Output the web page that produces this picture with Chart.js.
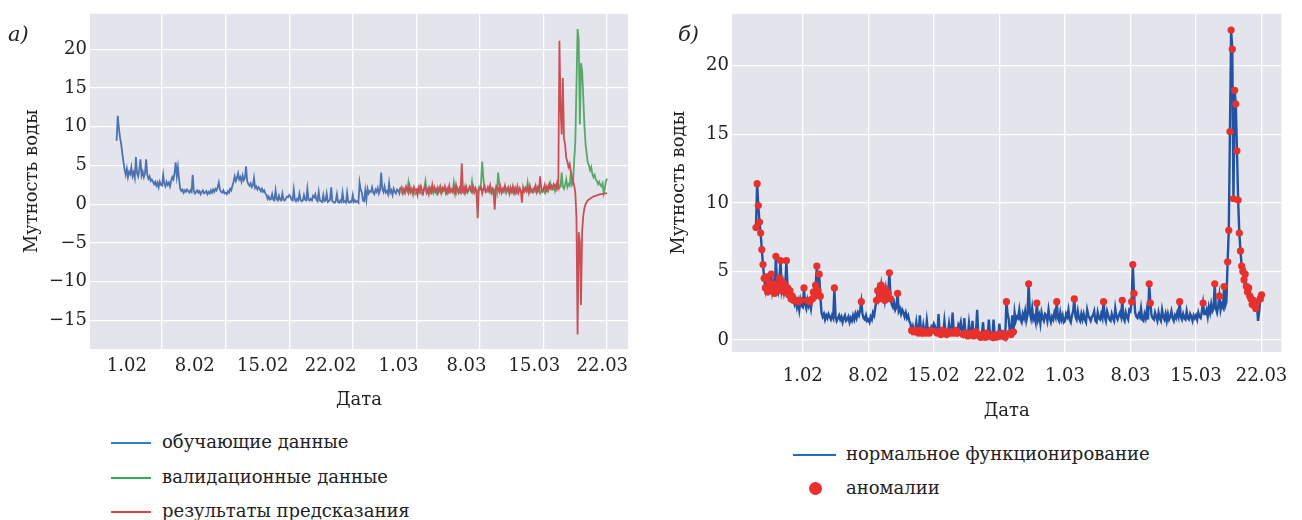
<!DOCTYPE html>
<html lang="ru">
<head>
<meta charset="utf-8">
<title>Мутность воды</title>
<script src="https://cdn.jsdelivr.net/npm/chart.js@4.4.1/dist/chart.umd.min.js"></script>
<style>
  body { margin: 0; background: #fff; width: 1302px; height: 520px; overflow: hidden; position: relative;
         font-family: "DejaVu Serif", serif; color: #222; }
  canvas { position: absolute; top: 0; }
  #chartA { left: 0; }
  #chartB { left: 650px; }
  .tag { position: absolute; font-style: italic; font-size: 21px; line-height: 24px; }
  .item { position: absolute; font-size: 18px; line-height: 22px; height: 22px; white-space: nowrap; }
  .line { position: absolute; height: 2px; }
  .dot { position: absolute; width: 13px; height: 13px; border-radius: 50%; background: #e8302c; }
</style>
</head>
<body>
<canvas id="chartA" width="650" height="430"></canvas>
<canvas id="chartB" width="652" height="430"></canvas>

<div class="tag" style="left:8px;top:22px;">а)</div>
<div class="tag" style="left:678px;top:22px;">б)</div>

<div class="line" style="left:111px;top:442px;width:40px;background:#2d7fc6;"></div>
<div class="item" style="left:162px;top:431px;">обучающие данные</div>
<div class="line" style="left:111px;top:477px;width:40px;background:#2fae52;"></div>
<div class="item" style="left:162px;top:466px;">валидационные данные</div>
<div class="line" style="left:111px;top:511px;width:40px;background:#e8403c;"></div>
<div class="item" style="left:162px;top:500px;">результаты предсказания</div>

<div class="line" style="left:793px;top:454px;width:43px;background:#1f6fc0;"></div>
<div class="item" style="left:846px;top:443px;">нормальное функционирование</div>
<div class="dot" style="left:809px;top:482px;"></div>
<div class="item" style="left:846px;top:477px;">аномалии</div>

<script>
// Water turbidity, eight samples a day (every 3 h). Day 0 is 1 February; the record starts on 27 January.
const SERIES_START = -5;     // day of the first sample
const SERIES_STEP = 0.125;   // 3 hours between samples
const SPLIT_DAY = 26.25;     // end of the training part, start of validation / forecast

// one row per day
const turbidity = [
  8.2, 11.4, 9.8, 8.6, 7.8, 6.6, 5.5, 4.5,     // 27.01
  3.8, 4.6, 3.5, 4.2, 3.9, 4.8, 3.6, 4.1,
  3.4, 6.1, 4.0, 3.6, 4.5, 5.8, 3.7, 4.2,
  3.5, 4.0, 5.8, 3.8, 3.3, 3.6, 3.0, 3.2,
  2.9, 2.6, 2.9, 2.4, 2.8, 2.2, 2.9, 2.5,
  2.4, 3.8, 2.6, 2.3, 2.9, 2.5, 2.8, 2.3,     // 1.02
  3.0, 3.5, 3.2, 4.0, 5.4, 3.6, 4.8, 3.2,
  2.0, 1.7, 1.9, 1.5, 1.8, 1.6, 1.9, 1.7,
  1.5, 1.8, 1.6, 3.8, 1.7, 1.4, 1.6, 1.8,
  1.5, 1.7, 1.3, 1.6, 1.8, 1.4, 1.5, 1.7,
  1.3, 1.6, 1.4, 1.8, 1.5, 1.9, 1.6, 2.0,
  1.8, 2.2, 2.8, 1.9, 1.6, 1.5, 1.8, 1.4,
  1.5, 1.3, 1.7, 1.5, 2.0, 1.8, 2.4, 2.9,
  3.6, 3.0, 3.4, 4.0, 3.2, 3.5, 2.9, 3.7,     // 8.02
  3.1, 3.4, 4.9, 3.0, 2.6, 2.4, 2.7, 2.2,
  2.4, 3.4, 2.1, 2.3, 1.9, 2.2, 2.0, 1.7,
  2.0, 1.6, 1.8, 1.4, 1.2, 0.7, 1.0, 0.6,
  0.7, 1.3, 0.6, 0.5, 1.8, 0.7, 0.5, 1.1,
  0.6, 0.5, 1.4, 0.6, 0.5, 0.7, 1.0, 0.9,
  1.2, 1.0, 0.6, 0.5, 1.9, 0.6, 0.4, 0.7,
  0.5, 1.4, 0.6, 0.4, 0.5, 1.2, 0.6, 0.5,     // 15.02
  2.0, 0.6, 0.5, 0.7, 0.5, 1.1, 0.9, 1.3,
  0.6, 0.4, 1.6, 0.5, 0.4, 0.3, 1.2, 0.4,
  0.5, 1.4, 0.3, 0.4, 0.6, 2.2, 0.4, 0.3,
  0.2, 0.4, 1.3, 0.3, 0.2, 0.5, 0.3, 1.5,
  0.3, 0.4, 0.2, 1.5, 0.3, 0.2, 0.4, 0.3,
  1.2, 0.3, 0.5, 0.3, 0.4, 0.2, 2.8, 1.9,
  1.5, 0.5, 0.4, 1.8, 0.6, 2.0, 1.4, 1.7,     // 22.02
  1.6, 2.2, 1.5, 1.3, 1.9, 1.6, 2.1, 1.4,
  1.8, 4.1, 2.0, 1.6, 2.3, 1.5, 1.7, 1.3,
  2.7, 1.5, 1.8, 1.2, 2.0, 1.6, 1.4, 1.9,
  1.8, 1.4, 2.2, 1.6, 1.3, 1.7, 1.5, 2.0,
  1.7, 2.8, 1.6, 1.4, 2.0, 1.5, 1.8, 1.3,
  1.4, 1.9, 1.7, 2.2, 1.5, 1.3, 1.8, 2.1,
  3.0, 1.7, 1.5, 2.1, 1.6, 1.4, 1.9, 1.5,     // 1.03
  1.9, 1.5, 1.3, 2.2, 1.8, 1.6, 1.4, 1.7,
  1.8, 2.1, 1.4, 1.3, 2.0, 1.6, 1.5, 1.9,
  1.6, 2.8, 1.7, 1.4, 2.1, 1.8, 1.5, 1.4,
  1.9, 1.6, 1.4, 2.3, 1.7, 1.5, 1.8, 2.0,
  1.7, 2.9, 1.6, 1.4, 2.0, 1.7, 1.5, 2.2,
  2.1, 2.8, 5.5, 3.4, 2.0, 1.7, 1.6, 1.9,
  1.7, 2.3, 1.5, 1.4, 1.9, 1.6, 2.2, 1.5,     // 8.03
  4.1, 2.7, 1.8, 1.6, 1.5, 2.0, 1.7, 1.4,
  2.0, 1.6, 1.4, 2.2, 1.7, 1.5, 1.9, 1.4,
  1.9, 1.5, 1.7, 2.1, 1.6, 1.4, 1.8, 1.6,
  2.0, 1.7, 2.8, 1.7, 1.5, 1.9, 1.6, 1.5,
  2.1, 1.6, 1.5, 1.9, 1.7, 1.4, 1.8, 1.6,
  1.8, 1.5, 2.0, 1.7, 1.6, 2.1, 2.7, 1.9,
  1.9, 2.2, 1.7, 2.4, 2.0, 2.6, 2.1, 2.3,     // 15.03
  4.1, 2.3, 2.0, 2.5, 3.2, 2.2, 2.6, 2.4,
  3.9, 2.5, 2.8, 5.7, 8.0, 15.2, 22.6, 21.2,
  10.3, 18.2, 17.2, 13.8, 10.2, 7.8, 6.5, 5.4,
  5.0, 4.4, 4.8, 3.9, 3.5, 3.8, 3.2, 3.0,
  2.6, 2.9, 2.5, 2.3, 2.7, 1.4, 2.1, 3.0,
  3.3                                          // 22.03
];

// 1 marks a sample classified as an anomaly, one string per day
const anomalyMask = [
  '11111111', '11111111', '11111111', '11111111', '10101010',
  '01001010', '11111111', '00000000', '00010000', '00000000', '00000000', '00100000', '00000001',
  '11111111', '11110000', '01000000', '00000101', '10110110', '11011100', '00110111',
  '10111011', '01111000', '01011101', '10111011', '11011110', '11101111', '01111110',
  '01101000', '00000000', '01000000', '10000000', '00000000', '01000000', '00000000',
  '10000000', '00000000', '00000000', '01000000', '00000000', '01000000', '01110000',
  '00000000', '11000000', '00000000', '00000000', '00100000', '00000000', '00000010',
  '00000000', '10001000', '10011111', '11111111', '11111111', '11111001',
  '1'
];

// Model forecast over the validation period, from SPLIT_DAY on, same 3 h step
const forecast = [
  1.8, 2.2, 1.6, 2.0, 1.5, 2.3,
  2.0, 1.5, 2.4, 1.7, 1.9, 1.3, 2.2, 1.8,
  1.9, 1.2, 2.1, 1.6, 2.3, 1.8, 1.4, 2.0,
  2.4, 1.5, 1.9, 1.3, 2.1, 1.7, 2.5, 1.6,
  2.2, 1.7, 2.0, 1.4, 1.8, 2.3, 1.5, 2.1,
  1.8, 2.3, 1.5, 2.0, 1.6, 2.4, 1.7, 1.9,
  1.6, 2.2, 1.4, 2.5, 1.9, 1.5, 2.1, 1.7,
  5.3, 1.8, 2.1, 1.5, 2.2, 1.6, 1.9, 2.3,
  2.0, 1.6, 2.3, 1.7, 2.1, 1.5, -1.8, 1.9,
  1.9, 2.2, 1.4, 2.0, 2.4, 1.6, 1.8, 2.2,
  1.7, 2.4, 1.5, 2.0, 1.6, -0.7, 1.9, 2.3,
  2.1, 1.6, 2.3, 1.5, 2.0, 1.7, 2.4, 1.8,
  1.9, 2.2, 1.4, 2.0, 1.6, 2.3, 1.5, 2.1,
  1.6, 2.3, 1.5, 2.0, 1.8, 0.2, 2.2, 1.7,
  2.1, 1.7, 2.2, 1.5, 2.4, 1.8, 1.6, 2.0,
  1.9, 2.4, 1.6, 2.2, 1.8, 3.6, 2.1, 1.7,
  2.0, 2.5, 1.7, 2.3, 1.9, 2.6, 2.1, 2.4,
  2.1, 2.6, 2.4, 2.0, 2.8, 2.3, 21.1, 12.5,
  9.0, 16.3, 8.5, 7.7, 6.0, 5.5, 4.8, 5.2,
  4.2, 3.6, 3.0, 2.4, 1.5, -1.7, -16.8, -3.6,
  -4.8, -13.0, -3.5, -1.5, -0.5, 0.0, 0.3, 0.5,
  0.6, 0.7, 0.8, 0.9, 1.0, 1.05, 1.1, 1.15,
  1.2, 1.25, 1.3, 1.32, 1.35, 1.38, 1.4, 1.4,
  1.4
];

const weekDays = [0, 7, 14, 21, 28, 35, 42, 49];
const dateLabels = ['1.02', '8.02', '15.02', '22.02', '1.03', '8.03', '15.03', '22.03'];
const ticksA = [-15, -10, -5, 0, 5, 10, 15, 20];
const ticksB = [0, 5, 10, 15, 20];

// ---- derived point lists ----
const anomalyFlags = anomalyMask.join('').split('').map(Number);
const seriesPoints = turbidity.map((v, i) => ({ x: SERIES_START + i * SERIES_STEP, y: v }));
const trainPoints = seriesPoints.filter(p => p.x <= SPLIT_DAY);
const validPoints = seriesPoints.filter(p => p.x >= SPLIT_DAY);
const forecastPoints = forecast.map((v, i) => ({ x: SPLIT_DAY + i * SERIES_STEP, y: v }));
const anomalyPoints = seriesPoints.filter((p, i) => anomalyFlags[i] === 1);

const fmtNum = v => (v < 0 ? '\u2212' + Math.abs(v) : String(v));
const dateFor = v => { const k = weekDays.indexOf(v); return k >= 0 ? dateLabels[k] : ''; };
const setTicks = list => scale => { scale.ticks = list.map(v => ({ value: v })); };

Chart.defaults.font.family = '"DejaVu Serif", serif';
Chart.defaults.font.size = 18;
Chart.defaults.color = '#222';

const plotBackground = {
  id: 'plotBackground',
  beforeDraw(chart) {
    const { ctx, chartArea: a } = chart;
    ctx.save();
    ctx.fillStyle = '#e3e4ec';
    ctx.fillRect(a.left, a.top, a.right - a.left, a.bottom - a.top);
    ctx.restore();
  }
};

const gridStyle = { color: '#ffffff', lineWidth: 1.3, drawTicks: false };
const lineStyle = { pointRadius: 0, borderWidth: 1.8, tension: 0, fill: false };

// ---- panel а: training / validation / forecast ----
new Chart(document.getElementById('chartA'), {
  type: 'line',
  data: {
    datasets: [
      Object.assign({ label: 'результаты предсказания', data: forecastPoints, borderColor: '#c94f55' }, lineStyle),
      Object.assign({ label: 'валидационные данные', data: validPoints, borderColor: '#55a868' }, lineStyle),
      Object.assign({ label: 'обучающие данные', data: trainPoints, borderColor: '#4c72b0' }, lineStyle)
    ]
  },
  options: {
    responsive: false, animation: false, events: [],
    layout: { padding: { left: 0, top: 13, right: 22, bottom: 19 } },
    plugins: { legend: { display: false }, tooltip: { enabled: false } },
    scales: {
      x: {
        type: 'linear', min: -7.93, max: 51.3, weight: 0,
        afterBuildTicks: setTicks(weekDays),
        afterFit: s => { s.height = 0; },
        ticks: { display: false },
        grid: gridStyle, border: { display: false }
      },
      xl: {
        type: 'linear', position: 'bottom', min: -3.8, max: 51.65, weight: 1,
        afterBuildTicks: setTicks(weekDays),
        afterFit: s => { s.height = 62; },
        ticks: { callback: v => dateFor(v), padding: 7, autoSkip: false, maxRotation: 0 },
        grid: { display: false, drawTicks: false }, border: { display: false },
        title: { display: true, text: 'Дата', padding: { top: 0, bottom: 0 } }
      },
      y: {
        type: 'linear', min: -18.67, max: 24.57,
        afterBuildTicks: setTicks(ticksA),
        afterFit: s => { s.width = 90; },
        ticks: { callback: v => fmtNum(v), padding: 3 },
        grid: gridStyle, border: { display: false },
        title: { display: true, text: 'Мутность воды', padding: { top: 22, bottom: 0 } }
      }
    }
  },
  plugins: [plotBackground]
});

// ---- panel б: normal operation and anomalies ----
new Chart(document.getElementById('chartB'), {
  type: 'line',
  data: {
    datasets: [
      { label: 'аномалии', data: anomalyPoints, showLine: false, pointRadius: 3.6,
        pointBackgroundColor: '#e8302c', pointBorderWidth: 0, borderColor: '#e8302c' },
      Object.assign({ label: 'нормальное функционирование', data: seriesPoints, borderColor: '#2253a3' },
                    lineStyle, { borderWidth: 2.4 })
    ]
  },
  options: {
    responsive: false, animation: false, events: [],
    layout: { padding: { left: 0, top: 13, right: 19, bottom: 8 } },
    plugins: { legend: { display: false }, tooltip: { enabled: false } },
    scales: {
      x: {
        type: 'linear', min: -7.56, max: 51.13,
        afterBuildTicks: setTicks(weekDays),
        afterFit: s => { s.height = 70; },
        ticks: { callback: v => dateFor(v), padding: 14, autoSkip: false, maxRotation: 0 },
        grid: gridStyle, border: { display: false },
        title: { display: true, text: 'Дата', padding: { top: 0, bottom: 0 } }
      },
      y: {
        type: 'linear', min: -0.87, max: 23.78,
        afterBuildTicks: setTicks(ticksB),
        afterFit: s => { s.width = 82; },
        ticks: { callback: v => fmtNum(v), padding: 3 },
        grid: gridStyle, border: { display: false },
        title: { display: true, text: 'Мутность воды', padding: { top: 19, bottom: 0 } }
      }
    }
  },
  plugins: [plotBackground]
});
</script>
</body>
</html>
